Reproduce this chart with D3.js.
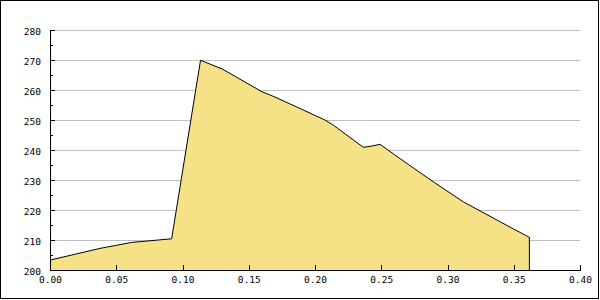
<!DOCTYPE html>
<html>
<head>
<meta charset="utf-8">
<script src="https://cdn.jsdelivr.net/npm/d3@7.9.0/dist/d3.min.js"></script>
<style>
  body { margin: 0; background: #fff; }
  svg { display: block; }
  text { font-family: "DejaVu Sans Mono", monospace; font-size: 9.5px; fill: #000; }
</style>
</head>
<body>
<div id="chart"></div>
<script>
// Data
const xValues = [0.000, 0.0377, 0.0617, 0.0918, 0.1136, 0.1300, 0.1600, 0.1690, 0.1899,
  0.2075, 0.2138, 0.2365, 0.2428, 0.2490, 0.2704, 0.2893, 0.3120, 0.3497, 0.3618];
const yValues = [203.3, 207.2, 209.2, 210.4, 269.9, 267.0, 259.4, 257.8, 253.6,
  250.0, 248.3, 240.9, 241.3, 241.9, 235.2, 229.4, 222.7, 213.7, 210.9];
const xTicks = [0, 0.05, 0.10, 0.15, 0.20, 0.25, 0.30, 0.35, 0.40];
const yTicks = [200, 210, 220, 230, 240, 250, 260, 270, 280];
const yMinorTicks = [205, 215, 225, 235, 245, 255, 265, 275];

const width = 600;
const height = 300;
const margin = { top: 30, right: 20, bottom: 30, left: 50 };

const svg = d3.select('#chart')
  .append('svg')
  .attr('width', width)
  .attr('height', height);

const xScale = d3.scaleLinear()
  .domain([0, 0.4])
  .range([margin.left, width - margin.right]);

const yScale = d3.scaleLinear()
  .domain([200, 280])
  .range([height - margin.bottom, margin.top]);

const points = xValues.map((x, i) => ({ x, y: yValues[i] }));

// Gridlines
svg.append('g')
  .attr('transform', `translate(${margin.left}, 0)`)
  .call(d3.axisRight(yScale).tickValues(yTicks).tickFormat('')
    .tickSize(xScale.range()[1] - margin.left))
  .call(g => g.select('.domain').remove())
  .call(g => g.selectAll('.tick line').attr('stroke', '#c0c0c0').attr('shape-rendering', 'crispEdges'));

// Filled area
const area = d3.area()
  .x(d => xScale(d.x))
  .y0(yScale(200))
  .y1(d => yScale(d.y));

svg.append('path')
  .datum(points)
  .attr('d', area)
  .attr('fill', '#f5e186');

// Outline (with the closing vertical line at the end)
const last = points[points.length - 1];
const outline = points.concat([{ x: last.x, y: 200 }]);
const line = d3.line()
  .x(d => xScale(d.x))
  .y(d => yScale(d.y));

svg.append('path')
  .datum(outline)
  .attr('d', line)
  .attr('fill', 'none')
  .attr('stroke', '#000')
  .attr('stroke-width', 1);

// Y axis: major and minor ticks pointing inside
const yAxis = svg.append('g')
  .attr('transform', `translate(${margin.left}, 0)`)
  .attr('shape-rendering', 'crispEdges')
  .call(d3.axisLeft(yScale).tickValues(yTicks).tickSizeInner(-5).tickSizeOuter(0).tickPadding(9));
yAxis.selectAll('.tick text').attr('dy', '0.5em');

svg.append('g')
  .attr('transform', `translate(${margin.left}, 0)`)
  .attr('shape-rendering', 'crispEdges')
  .call(d3.axisLeft(yScale).tickValues(yMinorTicks).tickFormat('').tickSizeInner(-3).tickSizeOuter(0))
  .call(g => g.select('.domain').remove());

// X axis: ticks pointing up
const xAxis = svg.append('g')
  .attr('transform', `translate(0, ${yScale(200)})`)
  .attr('shape-rendering', 'crispEdges')
  .call(d3.axisBottom(xScale).tickValues(xTicks).tickFormat(d3.format('.2f'))
    .tickSizeInner(-5).tickSizeOuter(0).tickPadding(6));
xAxis.selectAll('.tick text').attr('dy', '0.71em');

svg.selectAll('.domain, .tick line').filter(function () {
  return this.getAttribute('stroke') === 'currentColor';
}).attr('stroke', '#000');

// Image frame
svg.append('rect')
  .attr('x', 0.5)
  .attr('y', 0.5)
  .attr('width', width - 2)
  .attr('height', height - 2)
  .attr('fill', 'none')
  .attr('stroke', '#000')
  .attr('shape-rendering', 'crispEdges');
</script>
</body>
</html>
